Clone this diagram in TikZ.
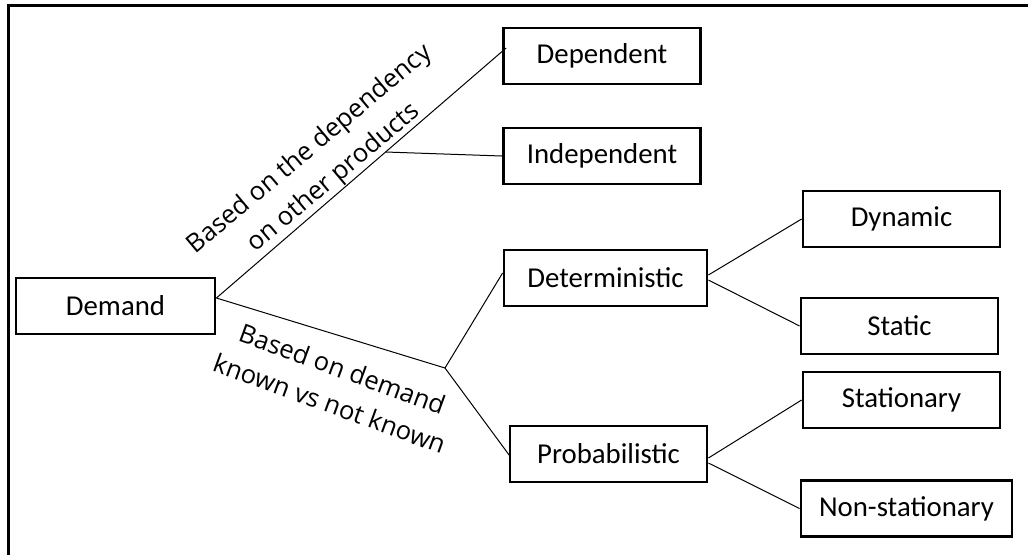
\documentclass[tikz,border=0pt]{standalone}
\usepackage{fontspec}
\setmainfont{Carlito}
\newfontfamily\lblfont{Open Sans}
\begin{document}
\begin{tikzpicture}[x=0.5pt,y=-0.5pt]
    \tikzset{
        block/.style={draw, line width=1.4pt, minimum width=98.5pt, minimum height=28pt, inner sep=0pt, font=\fontsize{14.4}{16}\selectfont},
        link/.style={line width=0.5pt},
        lbl/.style={font=\lblfont\fontsize{12.8}{18.5}\selectfont, align=center, inner sep=0pt}
    }
    \useasboundingbox (0,0) rectangle (1028,554);
    \draw[line width=1.3pt] (8.7,560) -- (8.7,5.3) -- (1040,5.3);

    \draw node[block, minimum width=99.5pt] (demand) at (115.5,306) {Demand};
    \draw node[block] (dep) at (602,56) {Dependent};
    \draw node[block] (indep) at (602,156) {Independent};
    \draw node[block, minimum width=101.5pt] (det) at (605.5,278) {Deterministic};
    \draw node[block] (prob) at (608.5,454) {Probabilistic};
    \draw node[block] (dyn) at (901.5,219) {Dynamic};
    \draw node[block] (stat) at (899.5,326) {Static};
    \draw node[block] (stnry) at (901.5,400) {Stationary};
    \draw node[block, minimum width=105.5pt] (nonst) at (906.5,508.5) {Non-stationary};

    \coordinate (jB) at (445,368);

    \draw[link] ([yshift=4pt]demand.east) -- coordinate[pos=0.584] (jA) ([xshift=2pt,yshift=4pt]dep.west);
    \draw[link] (jA) -- (indep.west);
    \draw[link] ([yshift=4pt]demand.east) -- (jB);
    \draw[link] (jB) -- ([yshift=2.5pt]det.west);
    \draw[link] (jB) -- ([xshift=1pt,yshift=-1.5pt]prob.west);
    \draw[link] ([yshift=1.5pt]det.east) -- (dyn.west);
    \draw[link] ([yshift=-1pt]det.east) -- (stat.west);
    \draw[link] ([yshift=-2pt]prob.east) -- (stnry.west);
    \draw[link] ([yshift=-4.5pt]prob.east) -- (nonst.west);

    \node[lbl, rotate=40] (lblA) at (322,164) {Based on the dependency\\on other products};
    \node[lbl, rotate=-20] (lblB) at (336,386) {Based on demand\\known vs not known};
\end{tikzpicture}
\end{document}
